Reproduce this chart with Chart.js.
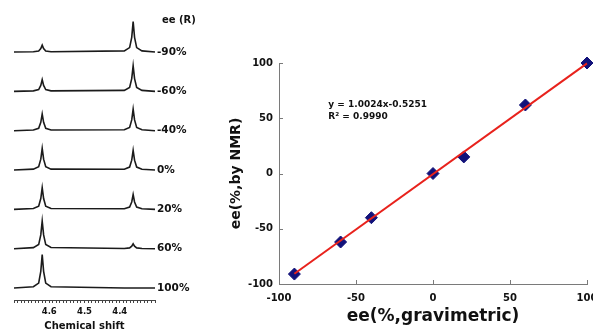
<!DOCTYPE html>
<html>
<head>
<meta charset="utf-8">
<script src="https://cdn.jsdelivr.net/npm/chart.js@4.4.1/dist/chart.umd.min.js"></script>
<style>
  html, body { margin: 0; padding: 0; background: #fff; overflow: hidden; }
  body { width: 593px; height: 333px; position: relative; }
  #nmrBox { position: absolute; left: 0; top: 0; width: 200px; height: 333px; }
  #fitBox { position: absolute; left: 200px; top: 0; width: 400px; height: 333px; }
  #eeHead { position: absolute; left: 162px; top: 14px; line-height: 12px;
            font: bold 10px "DejaVu Sans"; color: #111; }
</style>
</head>
<body>
<div id="nmrBox"><canvas id="nmrChart"></canvas></div>
<div id="eeHead">ee (R)</div>
<div id="fitBox"><canvas id="fitChart"></canvas></div>
<script>
// ---- NMR spectra (left panel) ----
const shiftPpm   = [4.70, 4.645, 4.630, 4.624, 4.620, 4.616, 4.610, 4.595,
                    4.387, 4.372, 4.366, 4.362, 4.358, 4.352, 4.337, 4.30];
const shiftTicks = [4.6, 4.5, 4.4];
const eeLabels   = ['-90%', '-60%', '-40%', '0%', '20%', '60%', '100%'];

const specM90 = [0, 0.3, 1.0,  3.5,  7,  3.5, 1.0, 0.3,  1.2, 4.5, 15,  31, 15,  4.5, 1.2, 0];
const specM60 = [0, 0.5, 1.8,  6,   12,  6,   1.8, 0.5,  1.0, 4.0, 13,  26, 13,  4.0, 1.0, 0];
const specM40 = [0, 0.7, 2.5,  8.5, 17,  8.5, 2.5, 0.7,  0.9, 3.3, 11,  22, 11,  3.3, 0.9, 0];
const spec0   = [0, 0.9, 3.3, 11,   22, 11,   3.3, 0.9,  0.8, 3.0, 10,  20, 10,  3.0, 0.8, 0];
const spec20  = [0, 0.9, 3.3, 11,   22, 11,   3.3, 0.9,  0.6, 2.3, 7.5, 15, 7.5, 2.3, 0.6, 0];
const spec60  = [0, 1.1, 4.2, 14,   28, 14,   4.2, 1.2,  0.2, 0.8, 2.5,  5, 2.5, 0.8, 0.2, 0];
const spec100 = [0, 1.3, 5.0, 17,   34, 17,   5.0, 1.3,  0,   0,   0,    0, 0,   0,   0,   0];

// ---- calibration plot (right panel) ----
const gravEe   = [-90, -60, -40, 0, 20, 60, 100];
const nmrEe    = [-91, -62, -40, 0, 15, 62, 100];
const fitX     = [-90, 100];
const fitY     = [-90.7, 99.7];
const eeTicks  = [-100, -50, 0, 50, 100];
const fitLines = ['y = 1.0024x-0.5251', 'R\u00B2 = 0.9990'];

const ink = '#111111';
const boldFont = (size) => ({ family: 'DejaVu Sans', size: size, weight: 'bold' });

// stacked traces, top one is -90%
const traceGap = 40;
const traces = [specM90, specM60, specM40, spec0, spec20, spec60, spec100];
const baseOf = k => (traces.length - 1 - k) * traceGap;

const nmrDatasets = traces.map((t, k) => ({
    data: shiftPpm.map((x, i) => ({ x: x, y: t[i] + baseOf(k) })),
    borderColor: '#1b1b1b', borderWidth: 1.6, pointRadius: 0, tension: 0, fill: false, clip: false
}));

new Chart(document.getElementById('nmrChart'), {
    type: 'line',
    data: { datasets: nmrDatasets },
    options: {
        responsive: true, maintainAspectRatio: false, animation: false,
        layout: { padding: { left: 14, top: 14, right: 0, bottom: 0 } },
        plugins: { legend: { display: false }, tooltip: { enabled: false } },
        scales: {
            x: {
                type: 'linear', reverse: true, min: 4.30, max: 4.70,
                afterFit: s => { s.height = 33; s.paddingLeft = 0; s.paddingRight = 0; },
                ticks: {
                    stepSize: 0.01, autoSkip: false, maxRotation: 0, padding: 4,
                    color: ink, font: boldFont(8.5),
                    callback: v => shiftTicks.includes(Math.round(v * 100) / 100) ? (Math.round(v * 10) / 10).toFixed(1) : ''
                },
                grid: { drawOnChartArea: false, tickLength: 3, color: '#444' },
                border: { color: '#444', width: 1 },
                title: { display: true, text: 'Chemical shift', color: ink, font: boldFont(10), padding: { top: 0, bottom: 1 } }
            },
            y: {
                position: 'right', min: -12.2, max: 278.7,
                afterFit: s => { s.width = 45; },
                afterBuildTicks: s => { s.ticks = eeLabels.map((l, k) => ({ value: baseOf(k) })); },
                ticks: { autoSkip: false, padding: 2, color: ink, font: boldFont(10.5), callback: (v, i) => eeLabels[i] },
                grid: { display: false, drawTicks: false },
                border: { display: false }
            }
        }
    }
});

// tick marks pointing into the plot, like the original
const innerTicks = {
    id: 'innerTicks',
    afterDraw(chart) {
        const { ctx, chartArea, scales } = chart;
        ctx.save();
        ctx.strokeStyle = '#7a7a7a';
        ctx.lineWidth = 1;
        ctx.beginPath();
        scales.x.ticks.forEach(t => {
            const px = Math.round(scales.x.getPixelForValue(t.value)) + 0.5;
            ctx.moveTo(px, chartArea.bottom);
            ctx.lineTo(px, chartArea.bottom - 4);
        });
        scales.y.ticks.forEach(t => {
            const py = Math.round(scales.y.getPixelForValue(t.value)) + 0.5;
            ctx.moveTo(chartArea.left, py);
            ctx.lineTo(chartArea.left + 4, py);
        });
        ctx.stroke();
        ctx.restore();
    }
};

// regression equation
const eqText = {
    id: 'eqText',
    afterDatasetsDraw(chart) {
        const { ctx, scales } = chart;
        const px = scales.x.getPixelForValue(-68);
        const py = scales.y.getPixelForValue(62.5);
        ctx.save();
        ctx.font = 'bold 9px "DejaVu Sans"';
        ctx.fillStyle = ink;
        ctx.textBaseline = 'middle';
        ctx.fillText(fitLines[0], px, py);
        ctx.fillText(fitLines[1], px, py + 12);
        ctx.restore();
    }
};

new Chart(document.getElementById('fitChart'), {
    type: 'scatter',
    data: {
        datasets: [
            { type: 'line', data: fitX.map((x, i) => ({ x: x, y: fitY[i] })), borderColor: '#e8221c', borderWidth: 2,
              pointRadius: 0, fill: false, clip: false },
            { data: gravEe.map((x, i) => ({ x: x, y: nmrEe[i] })), pointStyle: 'rectRot', pointRadius: 6,
              backgroundColor: '#12127a', borderColor: '#12127a', borderWidth: 1, clip: false }
        ]
    },
    options: {
        responsive: true, maintainAspectRatio: false, animation: false,
        layout: { padding: { left: 0, top: 63, right: 13, bottom: 0 } },
        plugins: { legend: { display: false }, tooltip: { enabled: false } },
        scales: {
            x: {
                type: 'linear', min: -100, max: 100,
                afterFit: s => { s.height = 49; s.paddingLeft = 0; s.paddingRight = 0; },
                afterBuildTicks: s => { s.ticks = eeTicks.map(v => ({ value: v })); },
                ticks: { autoSkip: false, maxRotation: 0, padding: 8, color: ink, font: boldFont(10) },
                grid: { display: false, drawTicks: false },
                border: { color: '#7a7a7a', width: 1 },
                title: { display: true, text: 'ee(%,gravimetric)', color: ink, font: boldFont(17), padding: { top: 0, bottom: 6 } }
            },
            y: {
                type: 'linear', min: -100, max: 100,
                afterFit: s => { s.width = 79; },
                afterBuildTicks: s => { s.ticks = eeTicks.map(v => ({ value: v })); },
                ticks: { autoSkip: false, padding: 6, color: ink, font: boldFont(10) },
                grid: { display: false, drawTicks: false },
                border: { color: '#7a7a7a', width: 1 },
                title: { display: true, text: 'ee(%,by NMR)', color: ink, font: boldFont(14), padding: { top: 27.6, bottom: 0 } }
            }
        }
    },
    plugins: [innerTicks, eqText]
});
</script>
</body>
</html>
